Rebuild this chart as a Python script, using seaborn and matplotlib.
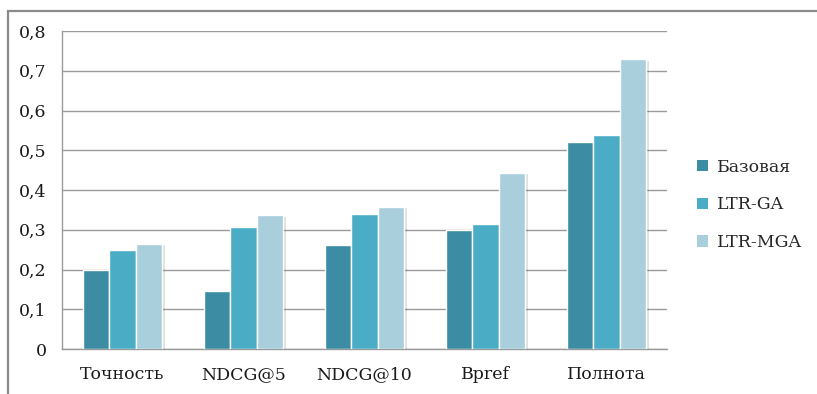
import matplotlib
matplotlib.use("Agg")
import matplotlib.pyplot as plt
import matplotlib.patheffects as pe
from matplotlib.patches import Rectangle
import seaborn as sns
import pandas as pd

categories = ["Точность", "NDCG@5", "NDCG@10", "Bpref", "Полнота"]
series_names = ["Базовая", "LTR-GA", "LTR-MGA"]
base_vals = [0.20, 0.147, 0.262, 0.300, 0.521]
ltr_ga_vals = [0.25, 0.307, 0.339, 0.314, 0.538]
ltr_mga_vals = [0.265, 0.336, 0.358, 0.443, 0.729]
y_ticks = [0, 0.1, 0.2, 0.3, 0.4, 0.5, 0.6, 0.7, 0.8]
y_tick_labels = ["0", "0,1", "0,2", "0,3", "0,4", "0,5", "0,6", "0,7", "0,8"]
colors = ["#3C8CA4", "#4BACC6", "#A9CFDD"]

rows = []
for name, vals in zip(series_names, [base_vals, ltr_ga_vals, ltr_mga_vals]):
    for cat, v in zip(categories, vals):
        rows.append({"Метрика": cat, "Метод": name, "Значение": v})
df = pd.DataFrame(rows)

sns.set_theme(style="white")
plt.rcParams["font.family"] = ["DejaVu Serif", "Liberation Serif"]
FS = 12.5

fig = plt.figure(figsize=(8.17, 3.94), dpi=100)
fig.patch.set_facecolor("white")
ax = fig.add_axes([62 / 817, 45 / 394, 605 / 817, 318 / 394])

sns.barplot(data=df, x="Метрика", y="Значение", hue="Метод",
            order=categories, hue_order=series_names, palette=colors,
            saturation=1, width=0.66, gap=0, edgecolor="white", linewidth=1.0,
            ax=ax, zorder=3)

shadow = [pe.SimplePatchShadow(offset=(1.5, -1), shadow_rgbFace="#000000", alpha=0.12), pe.Normal()]
for p in ax.patches:
    p.set_path_effects(shadow)

ax.set_ylim(0, 0.8)
ax.set_xlim(-0.5, len(categories) - 0.5)
ax.set_yticks(y_ticks)
ax.set_yticklabels(y_tick_labels)
ax.yaxis.grid(True, color="#9A9A9A", linewidth=1.0, zorder=0)
ax.set_axisbelow(True)
ax.set_xlabel("")
ax.set_ylabel("")

for side in ["top", "right"]:
    ax.spines[side].set_visible(False)
for side in ["left", "bottom"]:
    ax.spines[side].set_color("#9A9A9A")
    ax.spines[side].set_linewidth(1.0)

ax.tick_params(axis="y", length=5, width=1, color="#9A9A9A", labelsize=FS, pad=6, labelcolor="#1a1a1a")
ax.tick_params(axis="x", which="major", length=0, labelsize=FS, pad=12, labelcolor="#1a1a1a")
ax.set_xticks([i - 0.5 for i in range(len(categories) + 1)], minor=True)
ax.tick_params(axis="x", which="minor", length=6, width=1, color="#9A9A9A")

leg = ax.legend(loc="center left", bbox_to_anchor=(1.024, 0.453), frameon=False,
                fontsize=FS, handlelength=0.65, handleheight=0.65,
                handletextpad=0.5, labelspacing=1.2)
for h in leg.legend_handles:
    h.set_edgecolor("none")
    h.set_path_effects([])

# outer chart frame
fig.add_artist(Rectangle((8 / 817, -0.05), 1.2, (394 - 11) / 394 + 0.05,
                         transform=fig.transFigure, fill=False,
                         edgecolor="#8A8A8A", linewidth=1.6))

fig.savefig("out.png", dpi=100, facecolor="white")
